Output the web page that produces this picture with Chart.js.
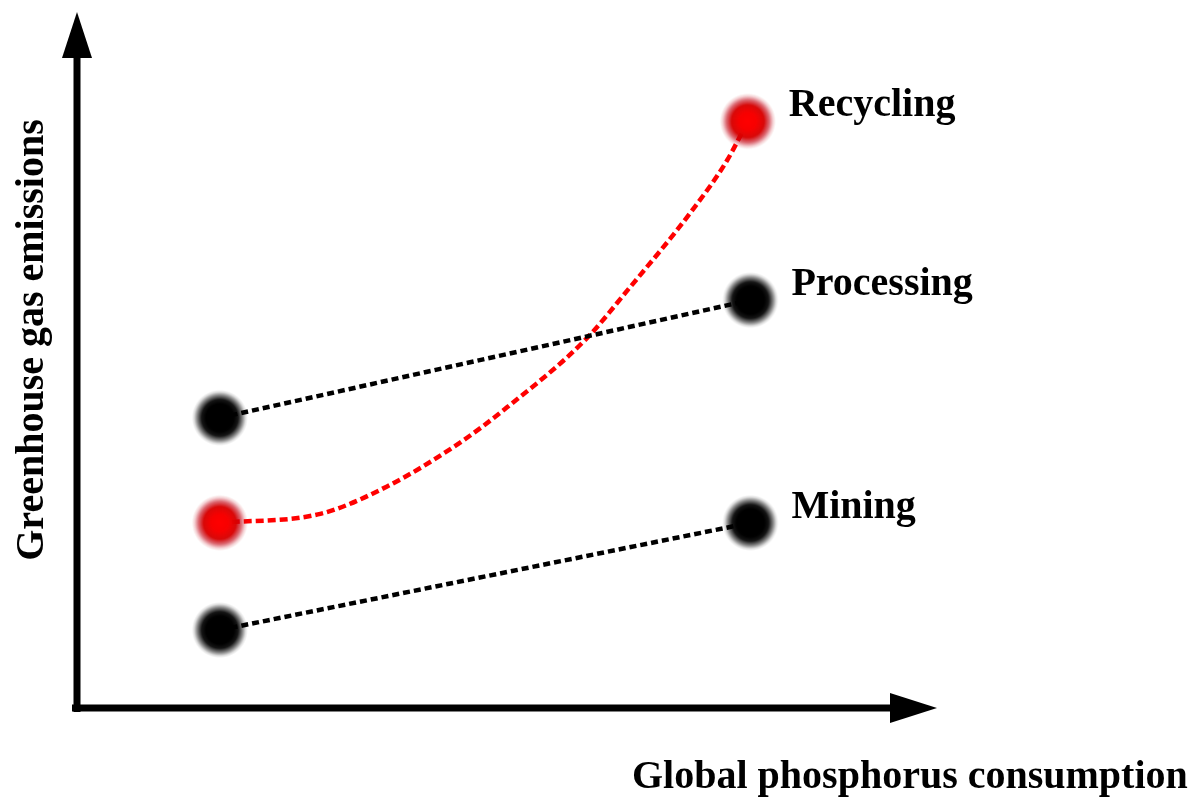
<!DOCTYPE html>
<html>
<head>
<meta charset="utf-8" />
<title>Phosphorus and greenhouse gas emissions</title>
<script src="https://cdn.jsdelivr.net/npm/chart.js@4.4.0/dist/chart.umd.min.js"></script>
<style>
    body { margin: 0; background: #fff; }
    #wrap { width: 1199px; height: 799px; position: relative; }
</style>
</head>
<body>
<div id="wrap"><canvas id="chart"></canvas></div>

<script>
// Values (axis units 0..10, no ticks shown).
var seriesNames = ['Mining', 'Processing', 'Recycling'];
var endX = [1.66, 7.83];
var miningY = [1.12, 2.66];
var processingY = [4.17, 5.86];
var recyclingX = [1.66, 2.83, 3.60, 4.45, 5.00, 5.91, 6.40, 7.16, 7.56, 7.80];
var recyclingY = [2.66, 2.79, 3.18, 3.81, 4.32, 5.29, 6.00, 7.16, 7.87, 8.43];

var xTitle = 'Global phosphorus consumption';
var yTitle = 'Greenhouse gas emissions';
var labelFont = 'bold 40px "Liberation Serif", "Times New Roman", serif';

// Blurry dot images used as point styles.
function makeDot(stops) {
    var c = document.createElement('canvas');
    c.width = 58;
    c.height = 58;
    var g = c.getContext('2d');
    var grad = g.createRadialGradient(29, 29, 0, 29, 29, 28);
    stops.forEach(s => grad.addColorStop(s[0], s[1]));
    g.fillStyle = grad;
    g.fillRect(0, 0, 58, 58);
    return c;
}
var blackDot = makeDot([
    [0, 'rgba(0,0,0,1)'], [0.5, 'rgba(0,0,0,1)'], [0.65, 'rgba(0,0,0,0.92)'],
    [0.8, 'rgba(0,0,0,0.5)'], [0.92, 'rgba(0,0,0,0.13)'], [1, 'rgba(0,0,0,0)']
]);
var redDot = makeDot([
    [0, 'rgba(255,0,0,1)'], [0.3, 'rgba(248,0,0,1)'], [0.58, 'rgba(215,0,0,0.97)'],
    [0.76, 'rgba(195,0,15,0.6)'], [0.9, 'rgba(195,0,20,0.18)'], [1, 'rgba(200,0,0,0)']
]);

function pts(xs, ys) {
    return xs.map((x, i) => ({x: x, y: ys[i]}));
}

function endsOnly(ctx) {
    var n = ctx.dataset.data.length;
    return (ctx.dataIndex === 0 || ctx.dataIndex === n - 1) ? 25 : 0;
}

// Axes with arrow heads, drawn on the chart area edges.
var arrowAxes = {
    id: 'arrowAxes',
    beforeDatasetsDraw(chart) {
        var c = chart.ctx, a = chart.chartArea;
        c.save();
        c.fillStyle = '#000';
        c.strokeStyle = '#000';
        c.lineWidth = 7;
        c.beginPath();
        c.moveTo(a.left, a.bottom + 4);
        c.lineTo(a.left, a.top + 44);
        c.moveTo(a.left - 5, a.bottom);
        c.lineTo(a.right - 45, a.bottom);
        c.stroke();
        c.beginPath();
        c.moveTo(a.left, a.top);
        c.lineTo(a.left - 15, a.top + 46);
        c.lineTo(a.left + 15, a.top + 46);
        c.closePath();
        c.fill();
        c.beginPath();
        c.moveTo(a.right, a.bottom);
        c.lineTo(a.right - 47, a.bottom - 15);
        c.lineTo(a.right - 47, a.bottom + 15);
        c.closePath();
        c.fill();
        c.restore();
    }
};

// Series names next to the last point, plus the axis titles.
var textLabels = {
    id: 'textLabels',
    afterDatasetsDraw(chart) {
        var c = chart.ctx;
        c.save();
        c.font = labelFont;
        c.fillStyle = '#000';
        c.textBaseline = 'alphabetic';
        c.textAlign = 'left';
        chart.data.datasets.forEach((ds, i) => {
            var meta = chart.getDatasetMeta(i);
            var last = meta.data[meta.data.length - 1];
            c.fillText(ds.label, last.x + 41, last.y - 5);
        });
        c.fillText(xTitle, 632, 788);
        c.translate(43, 340);
        c.rotate(-Math.PI / 2);
        c.textAlign = 'center';
        c.fillText(yTitle, 0, 0);
        c.restore();
    }
};

var chart = new Chart(document.getElementById('chart'), {
    type: 'line',
    data: {
        datasets: [
            {
                label: seriesNames[0],
                data: pts(endX, miningY),
                borderColor: '#000',
                borderWidth: 4.5,
                borderDash: [7, 4],
                pointStyle: blackDot,
                pointRadius: 25,
                tension: 0,
            },
            {
                label: seriesNames[1],
                data: pts(endX, processingY),
                borderColor: '#000',
                borderWidth: 4.5,
                borderDash: [7, 4],
                pointStyle: blackDot,
                pointRadius: 25,
                tension: 0,
            },
            {
                label: seriesNames[2],
                data: pts(recyclingX, recyclingY),
                borderColor: '#ff0000',
                borderWidth: 4.5,
                borderDash: [8, 4],
                pointStyle: redDot,
                pointRadius: endsOnly,
                cubicInterpolationMode: 'monotone',
            },
        ],
    },
    options: {
        responsive: true,
        maintainAspectRatio: false,
        animation: false,
        events: [],
        clip: false,
        layout: {
            autoPadding: false,
            padding: {left: 77, top: 12, right: 262, bottom: 91},
        },
        scales: {
            x: {type: 'linear', min: 0, max: 10, display: false},
            y: {type: 'linear', min: 0, max: 10, display: false},
        },
        plugins: {
            legend: {display: false},
            tooltip: {enabled: false},
        },
    },
    plugins: [arrowAxes, textLabels],
});
</script>
</body>
</html>
